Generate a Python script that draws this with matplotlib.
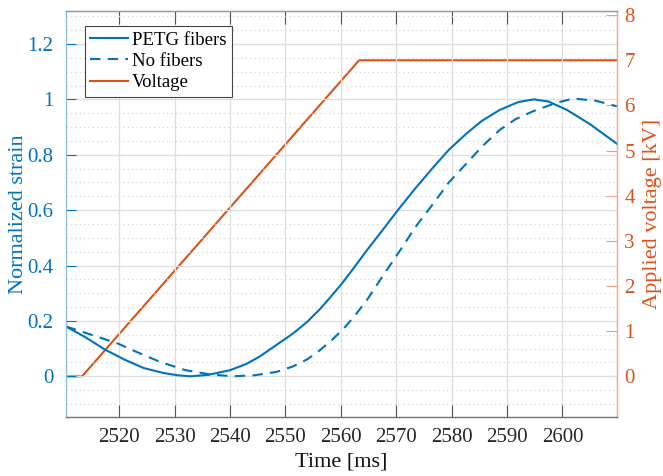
import numpy as np
import matplotlib
matplotlib.use("Agg")
import matplotlib.pyplot as plt
from matplotlib.ticker import MultipleLocator

plt.rcParams["font.family"] = ["Liberation Serif", "DejaVu Serif"]

# time [ms] and normalized strain
t_petg = [2510.4, 2514, 2517.4, 2521, 2524.4, 2528, 2530.5, 2532.8, 2536, 2540,
          2543, 2545.4, 2548, 2551.4, 2554, 2556.2, 2558, 2560, 2562, 2564.7,
          2567.5, 2570.1, 2573.5, 2576.7, 2579.5, 2582.7, 2585.5,
          2588.7, 2592, 2594.8, 2597.5, 2600.8, 2605, 2609.8]
s_petg = [0.18, 0.14, 0.097, 0.06, 0.03, 0.012, 0.004, 0.0, 0.005, 0.022,
          0.045, 0.072, 0.108, 0.155, 0.198, 0.242, 0.283, 0.33, 0.382, 0.455,
          0.527, 0.595, 0.68, 0.755, 0.818, 0.877, 0.923,
          0.962, 0.99, 1.0, 0.992, 0.962, 0.91, 0.84]

t_nofib = [2510.4, 2515, 2519.8, 2523.5, 2527.4, 2532, 2536.4, 2540.5, 2544.5,
           2548.4, 2551.4, 2554, 2556.2, 2558.5, 2560.5, 2562.5, 2564.7, 2567.5,
           2570.7, 2573.5, 2576.7, 2579.5, 2582.7, 2585.5,
           2588.7, 2591.5, 2594.8, 2599, 2602, 2606, 2609.8]
s_nofib = [0.18, 0.15, 0.118, 0.085, 0.052, 0.022, 0.007, 0.0, 0.004,
           0.016, 0.036, 0.062, 0.094, 0.133, 0.172, 0.218, 0.275, 0.36,
           0.455, 0.54, 0.624, 0.7, 0.769, 0.83,
           0.89, 0.928, 0.958, 0.988, 1.003, 0.995, 0.975]

t_volt = [2510.4, 2513.3, 2563.3, 2609.9]
v_volt = [0, 0, 7, 7]

blue = "#0072BD"
orange = "#D95319"
dark = "#262626"

fig = plt.figure(figsize=(6.63, 4.76), dpi=100)
ax = fig.add_axes([0.0995, 0.1233, 0.8316, 0.853])
ax2 = ax.twinx()

l1, = ax.plot(t_petg, s_petg, color=blue, lw=1.5, label="PETG fibers")
l2, = ax.plot(t_nofib, s_nofib, color=blue, lw=1.5, ls=(0, (5, 3.5)), label="No fibers")
l3, = ax2.plot(t_volt, v_volt, color=orange, lw=1.5, label="Voltage")

ax.set_xlim(2510.4, 2609.9)
ax.set_ylim(-0.148, 1.318)
ax2.set_ylim(-0.906, 8.085)

ax.set_xticks(np.arange(2520, 2601, 10))
ax.set_yticks([0, 0.2, 0.4, 0.6, 0.8, 1.0, 1.2])
ax.set_yticklabels(["0", "0.2", "0.4", "0.6", "0.8", "1", "1.2"])
ax.yaxis.set_minor_locator(MultipleLocator(0.05))
ax2.set_yticks(range(0, 9))

ax.grid(True, which="major", color="#dedede", lw=0.9)
ax.grid(True, which="minor", axis="y", color="#d8d8d8", lw=0.9, ls=(0, (1, 2.5)))
ax.set_axisbelow(True)

ax.tick_params(axis="x", which="both", direction="in", length=9, width=0.8,
               color="#555555", labelcolor=dark, labelsize=15, top=True, pad=8)
ax.tick_params(axis="y", which="major", direction="in", length=7, width=0.8,
               color=blue, labelcolor=blue, labelsize=15, pad=9)
ax.tick_params(axis="y", which="minor", left=False, right=False)
ax2.tick_params(axis="y", direction="in", length=8, width=0.8,
                color="#e8a080", labelcolor=orange, labelsize=15, pad=5)

for a in (ax, ax2):
    a.spines["top"].set_color("#999999")
    a.spines["bottom"].set_color("#777777")
    a.spines["left"].set_color("#8cc0e4")
    a.spines["right"].set_color("#f0a888")
    for s in a.spines.values():
        s.set_linewidth(0.9)

ax.set_xlabel("Time [ms]", fontsize=16, color="#111111", labelpad=4)
ax.set_ylabel("Normalized strain", fontsize=16, color=blue, labelpad=-0.5)
ax2.set_ylabel("Applied voltage [kV]", fontsize=16, color=orange, labelpad=6)

leg = ax.legend(handles=[l1, l2, l3], loc="upper left",
                bbox_to_anchor=(0.034, 0.964), fontsize=13.5, frameon=True,
                fancybox=False, framealpha=1, edgecolor="#444444",
                handlelength=2.0, handletextpad=0.2, borderpad=0.3,
                labelspacing=0.22, borderaxespad=0)
leg.get_frame().set_linewidth(0.8)
ax.set_zorder(ax2.get_zorder() + 1)
ax.patch.set_visible(False)

fig.savefig("out.png", dpi=100)
